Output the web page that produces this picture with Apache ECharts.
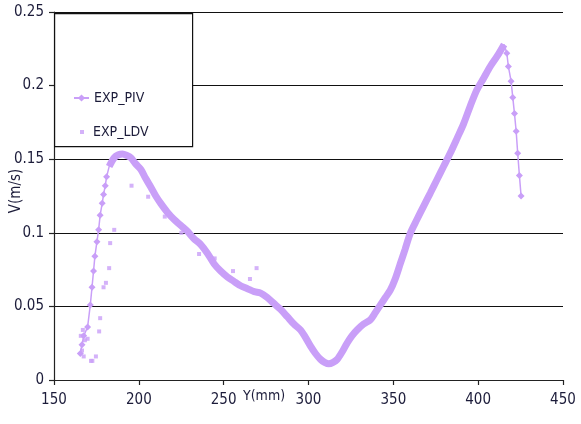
<!DOCTYPE html>
<html>
<head>
<meta charset="utf-8">
<script src="https://cdn.jsdelivr.net/npm/echarts@6/dist/echarts.min.js"></script>
<style>
  html, body { margin: 0; padding: 0; background: #fff; }
  #chart { width: 581px; height: 424px; }
</style>
</head>
<body>
<div id="chart"></div>
<script>
// PIV profile (Y in mm, V in m/s)
const pivX = [165.5, 166.5, 167.5, 169.8, 171.4, 172.4, 173.3, 174.1, 175.3, 176.3, 177.2, 178.4, 179.2, 180.2, 181.0,
  182.5, 185.5, 188.0, 190.4, 193.0, 195.3, 198.0, 201.2, 204.0, 207.1, 210.0, 212.9, 216.8, 220.8, 224.7, 228.6,
  232.5, 236.5, 240.5, 244.3, 248.2, 252.2, 256.0, 260.0, 264.0, 268.0, 271.8, 275.7, 279.6, 283.5, 287.5, 291.4,
  295.3, 298.2, 301.2, 304.1, 307.1, 309.5, 312.0, 314.5, 316.9, 319.8, 322.7, 325.6, 328.6, 332.5, 336.5, 339.5,
  342.4, 345.3, 348.2, 351.2, 354.1, 357.0, 360.0, 363.9, 367.8, 371.8, 375.7, 379.6, 383.5, 387.5, 391.4, 395.3,
  399.2, 403.2, 407.1, 411.2, 415.3,
  416.9, 417.8, 419.4, 420.4, 421.4, 422.4, 423.3, 424.3, 425.3];
const pivV = [0.018, 0.024, 0.030, 0.036, 0.051, 0.063, 0.074, 0.084, 0.094, 0.102, 0.112, 0.120, 0.126, 0.132, 0.138,
  0.145, 0.151, 0.153, 0.1535, 0.1525, 0.151, 0.147, 0.143, 0.137, 0.131, 0.125, 0.120, 0.114, 0.109, 0.105, 0.101,
  0.096, 0.092, 0.086, 0.079, 0.074, 0.070, 0.067, 0.064, 0.062, 0.060, 0.059, 0.056, 0.052, 0.048, 0.043, 0.038,
  0.034, 0.029, 0.023, 0.018, 0.014, 0.012, 0.011, 0.012, 0.014, 0.019, 0.025, 0.030, 0.034, 0.038, 0.041, 0.046,
  0.051, 0.056, 0.061, 0.069, 0.079, 0.089, 0.0997, 0.109, 0.118, 0.127, 0.136, 0.145, 0.154, 0.164, 0.174, 0.186,
  0.197, 0.205, 0.213, 0.220, 0.228,
  0.222, 0.213, 0.203, 0.192, 0.181, 0.169, 0.154, 0.139, 0.125];

// LDV points
const ldvX = [165.8, 166.5, 167.0, 167.5, 168.2, 169.8, 171.8, 172.6, 174.7, 176.6, 177.2, 179.2, 180.6, 182.5, 183.1,
  185.5, 195.7, 205.5, 215.3, 225.1, 235.5, 244.7, 255.5, 265.5, 269.4];
const ldvV = [0.030, 0.020, 0.034, 0.016, 0.027, 0.028, 0.013, 0.013, 0.016, 0.033, 0.042, 0.063, 0.066, 0.076, 0.093,
  0.102, 0.132, 0.1245, 0.111, 0.100, 0.0856, 0.0826, 0.074, 0.0686, 0.076];

const xTicks = [150, 200, 250, 300, 350, 400, 450];
const yTicks = [0, 0.05, 0.1, 0.15, 0.2, 0.25];

const purple = "#c99ff8";
const font = "'Liberation Sans Narrow', 'DejaVu Sans Condensed', 'Liberation Sans', sans-serif";
const denseFrom = 182.5, denseTo = 415.3; // the thick band part of the PIV curve

const pivData = pivX.map((x, i) => {
  const sparse = x < denseFrom || x > denseTo;
  return { value: [x, pivV[i]], symbol: sparse ? "diamond" : "none" };
});
const pivDense = pivX.map((x, i) => [x, pivV[i]]).filter(p => p[0] >= denseFrom && p[0] <= denseTo);
const ldvData = ldvX.map((x, i) => [x, ldvV[i]]);

const chart = echarts.init(document.getElementById("chart"));
chart.setOption({
  animation: false,
  backgroundColor: "#fff",
  grid: { left: 54, right: 18, top: 12, bottom: 44 },
  xAxis: {
    type: "value",
    min: xTicks[0], max: xTicks[xTicks.length - 1], interval: 50,
    axisLine: { show: true, lineStyle: { color: "#222", width: 1.2 } },
    axisTick: { show: true, inside: false, length: 5, lineStyle: { color: "#222", width: 1.2 } },
    axisLabel: { margin: 13, fontSize: 15, color: "#1c1c3a", fontFamily: font },
    splitLine: { show: false }
  },
  yAxis: {
    type: "value",
    min: yTicks[0], max: yTicks[yTicks.length - 1], interval: 0.05,
    axisLine: { show: true, lineStyle: { color: "#222", width: 1.2 } },
    axisTick: { show: true, length: 5, lineStyle: { color: "#222", width: 1.2 } },
    axisLabel: { margin: 10, fontSize: 15, color: "#1c1c3a", fontFamily: font },
    splitLine: { show: true, lineStyle: { color: "#111", width: 1.2 } }
  },
  legend: [
    {
      data: ["EXP_PIV"], orient: "vertical", left: 73, top: 91, z: 20,
      itemWidth: 15, itemHeight: 9, padding: 0,
      textStyle: { fontSize: 14, color: "#1c1c3a", fontFamily: font, padding: [0, 0, 0, 0] }
    },
    {
      data: [{ name: "EXP_LDV", icon: "rect" }], orient: "vertical", left: 80, top: 125, z: 20,
      itemWidth: 4, itemHeight: 4, padding: 0,
      textStyle: { fontSize: 14, color: "#1c1c3a", fontFamily: font, padding: [0, 0, 0, 4] }
    }
  ],
  graphic: [
    {
      type: "rect", left: 54, top: 13, z: 1,
      shape: { width: 138, height: 133 },
      style: { fill: "#fff", stroke: "#111", lineWidth: 1.2 }
    },
    {
      type: "text", left: 243, top: 389, z: 60,
      style: { text: "Y(mm)", font: "14px " + font, fill: "#1c1c3a" }
    },
    {
      type: "text", x: 16, y: 191, rotation: Math.PI / 2, z: 60,
      style: { text: "V(m/s)", font: "15px " + font, fill: "#1c1c3a", align: "center", verticalAlign: "middle" }
    }
  ],
  series: [
    {
      name: "EXP_PIV band", type: "line", data: pivDense,
      showSymbol: false, smooth: 0.3, z: 3,
      lineStyle: { color: purple, width: 7 }, itemStyle: { color: purple }
    },
    {
      name: "EXP_PIV", type: "line", data: pivData,
      symbol: "diamond", symbolSize: 7, showAllSymbol: true, z: 4,
      lineStyle: { color: purple, width: 1.5 }, itemStyle: { color: purple }
    },
    {
      name: "EXP_LDV", type: "scatter", data: ldvData,
      symbol: "rect", symbolSize: 4, z: 4,
      itemStyle: { color: purple }
    }
  ]
});
</script>
</body>
</html>
